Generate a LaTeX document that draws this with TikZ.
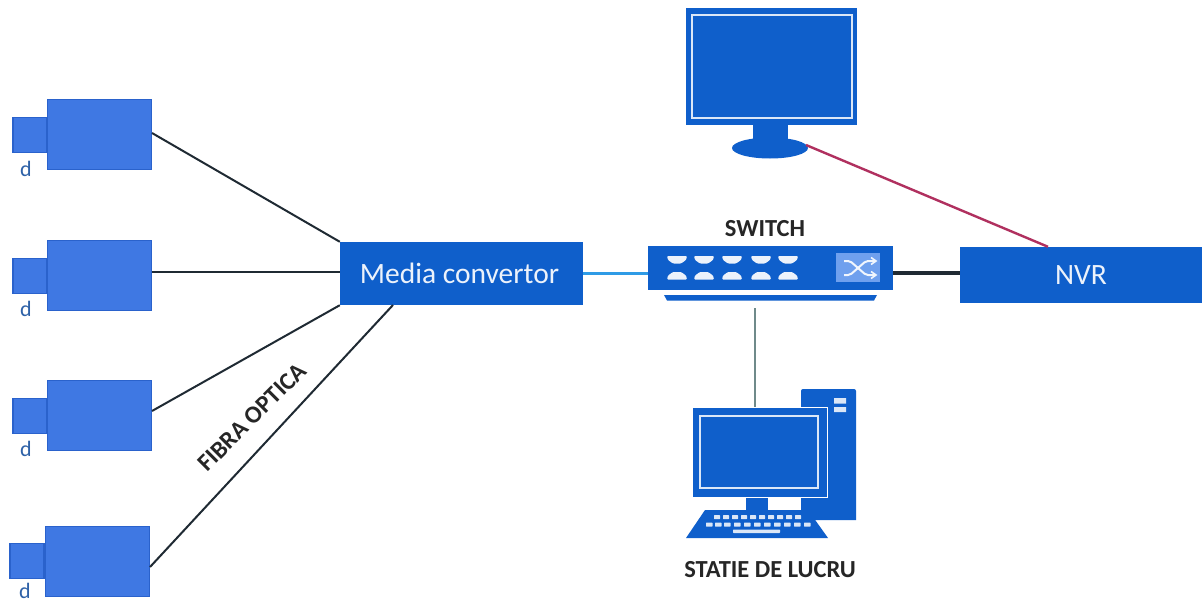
\documentclass[tikz,border=0pt]{standalone}
\usepackage{fontspec}
\setmainfont{Carlito}
\usetikzlibrary{positioning,shapes.geometric}
\definecolor{mainblue}{HTML}{0F5FCB}
\definecolor{cambody}{HTML}{3F78E3}
\definecolor{camedge}{HTML}{2A62CC}
\definecolor{lightpanel}{HTML}{6FA0EE}
\definecolor{redline}{HTML}{B0305F}
\definecolor{blueline}{HTML}{2E9BE6}
\definecolor{greyline}{HTML}{6F8A8A}
\definecolor{inkline}{HTML}{1F2A33}
\definecolor{labelblue}{HTML}{2F62A8}
\tikzset{
  x=1pt,y=-1pt,
  block/.style={fill=mainblue,draw=none,inner sep=0pt,text=white!92!mainblue,font=\fontsize{29.5}{32}\selectfont},
  camerabody/.style={fill=cambody,draw=camedge,line width=1.2pt,minimum width=104pt,minimum height=70pt,inner sep=0pt},
  cameralens/.style={fill=cambody,draw=camedge,line width=1.2pt,minimum width=34pt,minimum height=35pt,inner sep=0pt},
  camlabel/.style={text=labelblue,font=\fontsize{22}{24}\selectfont,inner sep=0pt},
  caption/.style={font=\bfseries\fontsize{24.5}{26}\selectfont,text=black!85,inner sep=0pt},
  fibre/.style={draw=inkline,line width=2pt},
  screenline/.style={draw=white!85!mainblue,line width=1.3pt,fill=mainblue},
  port/.style={fill=white!92!mainblue,draw=none,rounded corners=1pt},
  keycap/.style={fill=white!85!mainblue,draw=none,rounded corners=.6pt},
}
\begin{document}
\begin{tikzpicture}
\useasboundingbox (0,0) rectangle (1202,602);
\fill[white] (0,0) rectangle (1202,602);
% cameras
\foreach \n/\bx/\by/\lx/\ly/\dx/\dy in {1/99.5/134.5/30/135/26/169,2/99.5/275.5/30/276/26/309,3/99.5/415.5/30/416/26/449,4/97.5/561.5/27/561/25/591}{
  \node[cameralens] (lens\n) at (\lx,\ly) {};
  \node[camerabody] (cam\n) at (\bx,\by) {};
  \node[camlabel] (dlabel\n) at (\dx,\dy) {d};
}
% main blocks
\node[block,minimum width=243pt,minimum height=63pt] (media) at (461.5,273.5) {\hspace{-4pt}Media convertor};
\node[block,minimum width=242pt,minimum height=56pt] (nvr) at (1081,275) {NVR};
\node[fill=mainblue,inner sep=0pt,minimum width=245pt,minimum height=44pt] (switch) at (770.5,268) {};
\fill[mainblue] (664,295) -- (877,295) -- (874,300.5) -- (667,300.5) -- cycle;
\coordinate (switchfoot) at (755,308);
% switch ports
\foreach \x in {677,704,732,761,788}{
  \fill[port] (\x-10,256) -- (\x+10,256) -- (\x+9,260) -- (\x+4,263.5) -- (\x-4,263.5) -- (\x-9,260) -- cycle;
  \fill[port] (\x-10,279.5) -- (\x+10,279.5) -- (\x+9,275.5) -- (\x+4,272) -- (\x-4,272) -- (\x-9,275.5) -- cycle;
}
\fill[lightpanel] (836,253) rectangle (880,282);
\draw[white!90!lightpanel,line width=2pt,rounded corners=2pt]
  (844,261) -- (850,261) -- (866,275) -- (875,275)
  (844,275) -- (850,275) -- (866,261) -- (875,261);
\draw[white!90!lightpanel,line width=1.6pt]
  (871,257.5) -- (876,261) -- (871,264.5) (871,271.5) -- (876,275) -- (871,278.5);
% wall monitor
\node[fill=mainblue,inner sep=0pt,minimum width=171pt,minimum height=117pt] (monitor) at (771.5,66.5) {};
\draw[screenline] (692,15) rectangle (852,118);
\fill[mainblue] (753,125) rectangle (788,140);
\node[fill=mainblue,ellipse,inner sep=0pt,minimum width=76pt,minimum height=21pt] (monbase) at (770,148) {};
\coordinate (monright) at (806,145);
% workstation
\fill[mainblue] (801,391) arc[start angle=180,end angle=270,radius=2] -- (854,389) arc[start angle=270,end angle=360,radius=2] -- (856,520) -- (801,520) -- cycle;
\fill[white!85!mainblue] (834,398) rectangle (846,403.5) (834,407) rectangle (846,412);
\node[fill=mainblue,draw=white,line width=.8pt,inner sep=0pt,minimum width=135pt,minimum height=90pt] (pc) at (759.5,452.5) {};
\draw[screenline] (700,416) rectangle (818,488);
\fill[mainblue] (746,498) rectangle (768,510);
\fill[mainblue] (705,510) -- (808,510) -- (828,538) -- (686,538) -- cycle;
\foreach \x in {714,723,732,741,750,759,768,777,786,795}{
  \fill[keycap] (\x,515) rectangle +(6,4.2);
}
\foreach \x in {706,715,724,734,744,754,764,774,784,794,804}{
  \fill[keycap] (\x,522.5) rectangle +(6.5,4.2);
}
\fill[keycap] (733,529.5) rectangle (780,533);
% anchors on the media block
\coordinate (mediaA) at (media.north west);
\coordinate (mediaB) at (340,272);
\coordinate (mediaC) at (media.south west);
\coordinate (mediaD) at (393,305);
\coordinate (cam1out) at (152,133);
\coordinate (cam3out) at (152,411);
\coordinate (cam4out) at (150,567);
% connectors
\draw[fibre] (cam1out) -- (mediaA);
\draw[fibre] (cam2.east |- mediaB) -- (mediaB);
\draw[fibre] (cam3out) -- (mediaC);
\draw[fibre] (cam4out) -- (mediaD);
\draw[draw=blueline,line width=3pt] (media.east) -- (switch.west |- media.east);
\draw[draw=inkline,line width=4pt] (switch.east |- 0,273) -- (nvr.west |- 0,273);
\draw[draw=greyline,line width=1.2pt] (switchfoot) -- (switchfoot |- pc.north);
\draw[draw=redline,line width=2.4pt] (monright) -- (nvr.north -| 1048,0);
% captions
\node[caption] (swcap) at (765,229) {SWITCH};
\node[caption] (wscap) at (770,570) {STATIE DE LUCRU};
\node[caption,rotate=45] (fibcap) at (252,417) {FIBRA OPTICA};
\end{tikzpicture}
\end{document}
